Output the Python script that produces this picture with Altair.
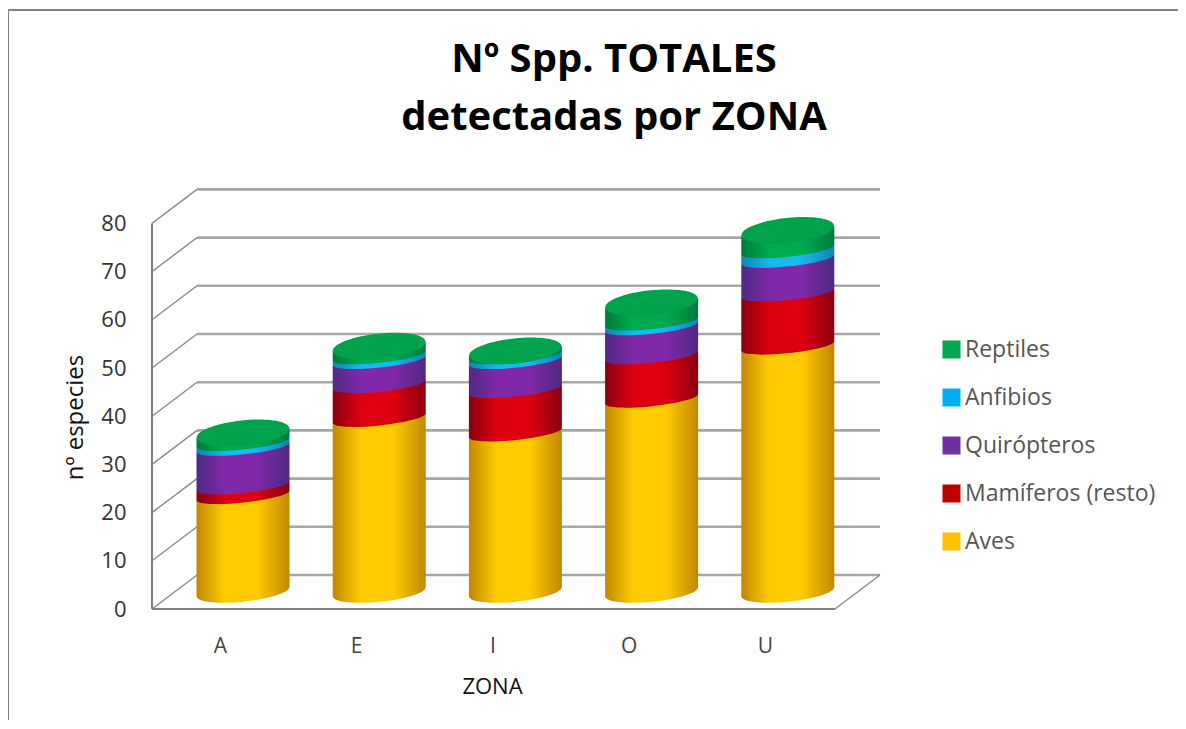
import altair as alt
import pandas as pd

ZONES = ["A", "E", "I", "O", "U"]
SERIES = ["Aves", "Mamíferos (resto)", "Quirópteros", "Anfibios", "Reptiles"]
AVES = [20, 36, 33, 40, 51]
MAMIFEROS = [2, 7, 9, 9, 11]
QUIROPTEROS = [8, 5, 6, 6, 7]
ANFIBIOS = [1, 1, 1, 1, 2]
REPTILES = [2, 2, 1, 4, 4]
VALUES = [AVES, MAMIFEROS, QUIROPTEROS, ANFIBIOS, REPTILES]
TICKS = [0, 10, 20, 30, 40, 50, 60, 70, 80]
LEGEND_COLORS = ["#FFC000", "#C00000", "#7030A0", "#00B0F0", "#00A650"]
EDGE = ["#C08800", "#8A0010", "#4E2A84", "#0E86B4", "#007A3C"]
MID = ["#FFCB00", "#DC0010", "#8028A8", "#18B8F0", "#00AA50"]
TOP_FILL = ["#FFD000", "#E00010", "#8A2BB0", "#18B8F0", "#00A24C"]

PX_Y = 4.82
PX_X = 136.2
W, H = 728, 419
XMIN = (152 - 220) / PX_X
XMAX = (880 - 220) / PX_X
FLOOR_END = (835 - 220) / PX_X
DX = 45 / PX_X
DY = 34 / PX_Y
BASE = (609 - 592) / PX_Y
OFFSET = 23 / PX_X
HALF = 46.5 / PX_X
TILT = 4.8 / PX_Y

ELLIPSE_TOP = "M-1,0A1,0.27 0 1,1 1,0A1,0.27 0 1,1 -1,0Z"
ELLIPSE_BASE = "M-1,0A1,0.21 0 1,1 1,0A1,0.21 0 1,1 -1,0Z"
ELLIPSE_MID = "M-1,0A1,0.15 0 1,1 1,0A1,0.15 0 1,1 -1,0Z"
SIZE = (2 * 46.5) ** 2

xs = alt.Scale(domain=[XMIN, XMAX], nice=False, zero=False)
ys = alt.Scale(domain=[0, H / PX_Y], nice=False, zero=False)


def grad(edge, mid):
    return alt.Gradient(
        gradient="linear", x1=0, x2=1, y1=0, y2=0,
        stops=[
            alt.GradientStop(offset=0, color=edge),
            alt.GradientStop(offset=0.3, color=mid),
            alt.GradientStop(offset=0.65, color=mid),
            alt.GradientStop(offset=1, color=edge),
        ],
    )


# Axes that carry the labels and titles
axes = alt.Chart(pd.DataFrame({"x": list(range(5)), "y": [0] * 5})).mark_point(opacity=0).encode(
    x=alt.X("x:Q", scale=xs, title="ZONA",
            axis=alt.Axis(values=list(range(5)), grid=False, domain=False, ticks=False,
                          labelExpr="['A','E','I','O','U'][datum.value]",
                          labelPadding=26, labelFontSize=21, labelColor="#444444",
                          labelFont="Open Sans",
                          titleFont="Open Sans", titleFontSize=22, titleFontWeight="normal",
                          titleX=340, titleY=67, titleColor="#111111")),
    y=alt.Y("y:Q", scale=ys, title="nº especies",
            axis=alt.Axis(values=TICKS, grid=False, domain=False, ticks=False,
                          labelPadding=26, labelFontSize=22, labelColor="#333333",
                          labelFont="Open Sans",
                          titleFont="Open Sans", titleFontSize=24, titleFontWeight="normal",
                          titleX=-65, titleY=227, titleColor="#111111")),
)

# Back wall grid, depth diagonals, floor front edge
wall = pd.DataFrame({"v": TICKS})
wall["y"] = wall.v + DY
wall["xa"] = XMIN + DX
wall["xb"] = XMAX
grid = alt.Chart(wall).mark_rule(color="#a6a6a6", strokeWidth=2.6).encode(
    x=alt.X("xa:Q", scale=xs), x2="xb:Q", y=alt.Y("y:Q", scale=ys))
wall["xc"] = XMIN
diag = alt.Chart(wall).mark_rule(color="#8a8a8a", strokeWidth=1.4).encode(
    x=alt.X("xc:Q", scale=xs), x2="xa:Q", y=alt.Y("v:Q", scale=ys), y2="y:Q")
front_v = alt.Chart(pd.DataFrame({"x": [XMIN], "a": [0], "b": [80]})).mark_rule(
    color="#808080", strokeWidth=2).encode(
    x=alt.X("x:Q", scale=xs), y=alt.Y("a:Q", scale=ys), y2="b:Q")
front_h = alt.Chart(pd.DataFrame({"a": [XMIN], "b": [FLOOR_END], "y": [0]})).mark_rule(
    color="#808080", strokeWidth=2).encode(
    x=alt.X("a:Q", scale=xs), x2="b:Q", y=alt.Y("y:Q", scale=ys))
floor_d = alt.Chart(pd.DataFrame({"a": [FLOOR_END], "b": [XMAX], "c": [0], "d": [DY]})).mark_rule(
    color="#8a8a8a", strokeWidth=1.4).encode(
    x=alt.X("a:Q", scale=xs), x2="b:Q", y=alt.Y("c:Q", scale=ys), y2="d:Q")

# Cylinders
layers = [grid, diag, front_v, front_h, floor_d]
cum = [0.0] * 5
for s, name in enumerate(SERIES):
    rows_side, rows_el = [], []
    for i, z in enumerate(ZONES):
        lo = cum[i] + BASE
        hi = lo + VALUES[s][i]
        cx = i + OFFSET
        rows_side.append({"z": z, "x": cx - HALF, "y": lo - TILT, "y2": hi - TILT})
        rows_side.append({"z": z, "x": cx + HALF, "y": lo + TILT, "y2": hi + TILT})
        rows_el.append({"z": z, "x": cx, "lo": lo, "hi": hi})
        cum[i] += VALUES[s][i]
    g = grad(EDGE[s], MID[s])
    layers.append(alt.Chart(pd.DataFrame(rows_el)).mark_point(
        shape=ELLIPSE_BASE if s == 0 else ELLIPSE_MID, size=SIZE, angle=354, filled=True,
        opacity=1, strokeWidth=0, color=g
    ).encode(x=alt.X("x:Q", scale=xs), y=alt.Y("lo:Q", scale=ys)))
    layers.append(alt.Chart(pd.DataFrame(rows_side)).mark_area(color=g, opacity=1).encode(
        x=alt.X("x:Q", scale=xs), y=alt.Y("y:Q", scale=ys), y2="y2:Q", detail="z:N"))
    if s == len(SERIES) - 1:
        layers.append(alt.Chart(pd.DataFrame(rows_el)).mark_point(
            shape=ELLIPSE_TOP, size=SIZE, angle=354, filled=True, opacity=1, strokeWidth=0,
            color=TOP_FILL[s]
        ).encode(x=alt.X("x:Q", scale=xs), y=alt.Y("hi:Q", scale=ys)))

# Legend
legend_df = pd.DataFrame({"s": SERIES, "x": [0] * 5, "y": [0] * 5})
legend_layer = alt.Chart(legend_df).mark_square(opacity=0).encode(
    x=alt.X("x:Q", scale=xs), y=alt.Y("y:Q", scale=ys),
    color=alt.Color("s:N", title=None,
                    scale=alt.Scale(domain=SERIES[::-1], range=LEGEND_COLORS[::-1]),
                    legend=alt.Legend(orient="none", legendX=788, legendY=148, symbolType="square",
                                      symbolSize=324, symbolOpacity=1, symbolStrokeWidth=0,
                                      labelFont="Open Sans", labelFontSize=23, labelColor="#555555",
                                      labelOffset=2, rowPadding=24, padding=0,
                                      labelLimit=260)),
)
layers.append(legend_layer)

# Outer border of the picture
border_v = alt.Chart(pd.DataFrame({"a": [0]})).mark_rule(color="#808080", strokeWidth=2).encode(
    x=alt.value(-144), y=alt.value(-180), y2=alt.value(530))
border_h = alt.Chart(pd.DataFrame({"a": [0]})).mark_rule(color="#808080", strokeWidth=2).encode(
    x=alt.value(-144), x2=alt.value(1026), y=alt.value(-180))
layers += [border_v, border_h]
layers.insert(0, axes)

chart = alt.layer(*layers).properties(
    width=W, height=H,
    padding={"left": 144, "top": 182, "right": 298, "bottom": 112},
    autosize=alt.AutoSizeParams(type="none"),
    background="white",
    title=alt.TitleParams(
        text=["Nº Spp. TOTALES", "detectadas por ZONA"],
        font="Open Sans", fontSize=40, fontWeight="bold", lineHeight=58, color="#000000",
        anchor="middle", dx=98, offset=0, dy=129),
).configure_view(stroke=None)

chart.save("out.html", embed_options={"renderer": "svg", "actions": False})
